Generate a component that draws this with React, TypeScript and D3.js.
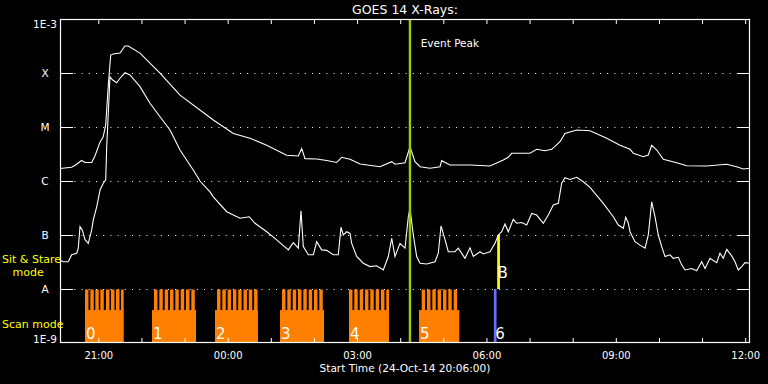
import React from "react";
import * as d3 from "d3";

// Time is given in hours since the start time 24-Oct-14 20:06:00 UT
const START_MS = Date.UTC(2014, 9, 24, 20, 6, 0);
const SPAN_HOURS = 16;

const title = "GOES 14 X-Rays:";
const xAxisTitle = "Start Time (24-Oct-14 20:06:00)";
const eventLabel = "Event Peak";
const eventPeakHour = 8.11;

const yLevels = [1e-9, 1e-8, 1e-7, 1e-6, 1e-5, 1e-4, 1e-3];
const yLabels = ["1E-9", "A", "B", "C", "M", "X", "1E-3"];
const xTickLabels = ["21:00", "00:00", "03:00", "06:00", "09:00", "12:00"];

// 1-8 Angstrom channel [hours since start, W/m^2]
const longChannel: [number, number][] = [
  [0.0, 1.7e-6], [0.27, 1.8e-6], [0.37, 2.0e-6], [0.5, 2.4e-6], [0.58, 2.2e-6], [0.735, 2.2e-6],
  [0.81, 2.9e-6], [0.93, 5.3e-6], [1.0, 6.5e-6], [1.06, 1.09e-5], [1.12, 6.0e-5], [1.176, 2.15e-4],
  [1.236, 2.25e-4], [1.391, 2.34e-4], [1.507, 3.16e-4], [1.584, 3.16e-4], [1.855, 2.34e-4],
  [2.319, 9.9e-5], [2.783, 3.9e-5], [3.478, 1.5e-5], [3.555, 1.35e-5], [4.019, 7.6e-6],
  [4.406, 6.2e-6], [4.793, 4.6e-6], [5.257, 3.0e-6], [5.526, 2.9e-6], [5.605, 4.0e-6],
  [5.681, 2.6e-6], [5.952, 2.55e-6], [6.184, 2.4e-6], [6.416, 2.2e-6], [6.532, 2.75e-6],
  [6.725, 2.52e-6], [6.957, 2.07e-6], [7.42, 1.84e-6], [7.692, 2.28e-6], [7.768, 2.04e-6],
  [8.0, 2.18e-6], [8.116, 4.3e-6], [8.232, 2.28e-6], [8.348, 1.84e-6], [8.58, 1.72e-6],
  [8.812, 1.84e-6], [8.851, 2.38e-6], [9.043, 1.98e-6], [9.507, 1.98e-6], [9.971, 1.9e-6],
  [10.28, 2.45e-6], [10.395, 2.75e-6], [10.474, 3.26e-6], [10.899, 3.26e-6], [11.054, 3.86e-6],
  [11.246, 3.64e-6], [11.402, 3.86e-6], [11.594, 5.35e-6], [11.71, 7.6e-6], [11.981, 8.8e-6],
  [12.29, 8.5e-6], [12.677, 6.2e-6], [12.986, 4.6e-6], [13.22, 3.86e-6], [13.294, 3.26e-6],
  [13.526, 2.82e-6], [13.642, 3.03e-6], [13.72, 4.6e-6], [13.837, 3.75e-6], [13.99, 2.52e-6],
  [14.3, 2.18e-6], [14.532, 1.92e-6], [14.996, 1.9e-6], [15.46, 2.04e-6], [15.69, 1.84e-6],
  [15.845, 1.67e-6], [16.0, 1.72e-6],
];

// 0.5-4 Angstrom channel [hours since start, W/m^2]
const shortChannel: [number, number][] = [
  [0, 3.4e-8], [0.077, 3.2e-8], [0.192, 3.2e-8], [0.271, 4.3e-8], [0.387, 4.6e-8], [0.424, 5.7e-8],
  [0.464, 1.43e-7], [0.517, 1.24e-7], [0.58, 8.2e-8], [0.656, 7.0e-8], [0.735, 1.24e-7],
  [0.772, 1.9e-7], [0.851, 3.3e-7], [0.928, 6.8e-7], [1.004, 9.1e-7], [1.06, 1.05e-6],
  [1.083, 4.3e-6], [1.12, 1.8e-5], [1.159, 8.5e-5], [1.222, 7.4e-5], [1.315, 6.6e-5],
  [1.391, 8.0e-5], [1.507, 1.01e-4], [1.623, 9.2e-5], [1.855, 5.6e-5], [2.087, 2.75e-5],
  [2.319, 1.55e-5], [2.551, 8.8e-6], [2.783, 3.75e-6], [3.09, 1.6e-6], [3.246, 1.0e-6],
  [3.478, 6.3e-7], [3.555, 5.1e-7], [3.866, 2.7e-7], [4.174, 2.04e-7], [4.39, 2.18e-7],
  [4.522, 1.65e-7], [4.793, 1.15e-7], [5.025, 8.1e-8], [5.294, 5.3e-8], [5.41, 7.2e-8],
  [5.526, 5.7e-8], [5.588, 2.8e-7], [5.642, 6.1e-8], [5.758, 4.3e-8], [5.874, 4.3e-8],
  [5.952, 7.5e-8], [6.068, 5.3e-8], [6.184, 5.2e-8], [6.337, 4.3e-8], [6.453, 4.3e-8],
  [6.516, 1.39e-7], [6.569, 1.0e-7], [6.648, 1.15e-7], [6.725, 1.07e-7], [6.764, 7.0e-8],
  [6.88, 4.0e-8], [7.033, 3.0e-8], [7.188, 2.6e-8], [7.343, 2.7e-8], [7.497, 2.25e-8],
  [7.613, 4.0e-8], [7.692, 8.7e-8], [7.768, 4.0e-8], [7.884, 7.0e-8], [8.0, 5.7e-8],
  [8.077, 2.18e-7], [8.116, 3.1e-7], [8.193, 1.0e-7], [8.271, 4.0e-8], [8.348, 3.0e-8],
  [8.503, 2.9e-8], [8.696, 3.2e-8], [8.772, 4.6e-8], [8.835, 1.47e-7], [8.928, 8.2e-8],
  [9.004, 4.9e-8], [9.159, 4.9e-8], [9.236, 5.7e-8], [9.391, 3.7e-8], [9.507, 5.8e-8],
  [9.584, 4.0e-8], [9.739, 4.9e-8], [9.816, 4.45e-8], [9.971, 4.9e-8], [10.087, 7.0e-8],
  [10.163, 1.0e-7], [10.242, 1.15e-7], [10.319, 1.6e-7], [10.395, 1.15e-7], [10.511, 1.95e-7],
  [10.59, 1.65e-7], [10.706, 1.7e-7], [10.822, 1.53e-7], [10.938, 2.5e-7], [11.054, 2.34e-7],
  [11.207, 1.65e-7], [11.323, 2.34e-7], [11.439, 3.6e-7], [11.555, 3.86e-7], [11.633, 9.1e-7],
  [11.71, 1.15e-6], [11.826, 1.07e-6], [11.981, 1.17e-6], [12.135, 9.7e-7], [12.29, 7.6e-7],
  [12.598, 3.86e-7], [12.83, 2.18e-7], [12.946, 1.53e-7], [13.062, 1.33e-7], [13.118, 2.13e-7],
  [13.178, 1.65e-7], [13.217, 1.15e-7], [13.333, 7.5e-8], [13.449, 6.5e-8], [13.565, 5.7e-8],
  [13.642, 1.0e-7], [13.72, 4.1e-7], [13.797, 2.18e-7], [13.874, 1.0e-7], [13.952, 6.1e-8],
  [14.029, 4.0e-8], [14.145, 4.3e-8], [14.222, 3.7e-8], [14.338, 3.86e-8], [14.416, 2.8e-8],
  [14.493, 2.25e-8], [14.648, 2.4e-8], [14.764, 2.18e-8], [14.88, 3.2e-8], [14.957, 2.4e-8],
  [15.072, 3.7e-8], [15.228, 3.07e-8], [15.304, 4.6e-8], [15.381, 3.7e-8], [15.46, 5.4e-8],
  [15.575, 4.1e-8], [15.652, 3.2e-8], [15.729, 2.25e-8], [15.808, 2.6e-8], [15.884, 3.07e-8],
  [16.0, 3.0e-8],
];

// Scan-mode rasters: block label, start/end hour, raster start hours
const scanLabels = ["0", "1", "2", "3", "4", "5"];
const scanStart = [0.58, 2.133, 3.594, 5.101, 6.701, 8.325];
const scanEnd = [1.477, 3.154, 4.591, 6.122, 7.629, 9.259];
const scanRasters: number[][] = [
  [0.58, 0.703, 0.819, 0.935, 1.067, 1.183, 1.299, 1.414],
  [2.18, 2.303, 2.428, 2.551, 2.674, 2.799, 2.922, 3.045],
  [3.641, 3.764, 3.887, 4.01, 4.132, 4.255, 4.378, 4.501],
  [5.148, 5.271, 5.396, 5.519, 5.642, 5.767, 5.89, 6.013],
  [6.701, 6.824, 6.949, 7.072, 7.195, 7.32, 7.443, 7.566],
  [8.387, 8.51, 8.633, 8.757, 8.881, 9.004, 9.129],
];
const rasterDuration = 0.08;
const lastScanLabel = "6";
const lastScanHour = 10.09;
const sitStareLabel = "B";
const sitStareHour = 10.145;

const W = 768;
const H = 384;
const L = 60, R = 750, T = 19, B = 343;
const FONT = "DejaVu Sans, sans-serif";
const ORANGE = "#ff8000";

export default function App() {
  const hourToDate = (h: number) => new Date(START_MS + h * 3600e3);
  const x = d3.scaleUtc().domain([hourToDate(0), hourToDate(SPAN_HOURS)]).range([L, R]);
  const y = d3.scaleLog().domain([1e-9, 1e-3]).range([B, T]);
  const xh = (h: number) => x(hourToDate(h));

  const line = d3
    .line<[number, number]>()
    .x((d) => xh(d[0]))
    .y((d) => y(d[1]));

  const hourTicks = x.ticks(d3.utcHour.every(1) as any);
  const labelTicks = hourTicks.filter((d) => d.getUTCHours() % 3 === 0);

  const ySplit = y(1e-8); // A level
  const yBase = ySplit + (B - ySplit) * 0.39;

  return (
    <svg
      width={W}
      height={H}
      style={{ position: "fixed", left: 0, top: 0, background: "#000" }}
      fontFamily={FONT}
    >
      <rect x={0} y={0} width={W} height={H} fill="#000" />

      {/* scan mode blocks */}
      {scanLabels.map((lab, i) => (
        <g key={lab}>
          <rect
            x={xh(scanStart[i])}
            y={yBase}
            width={xh(scanEnd[i]) - xh(scanStart[i])}
            height={B - yBase}
            fill={ORANGE}
          />
          {scanRasters[i].map((s, j) => (
            <rect
              key={j}
              x={xh(s)}
              y={ySplit + 0.5}
              width={Math.min(xh(s + rasterDuration), xh(scanEnd[i])) - xh(s)}
              height={yBase - ySplit}
              fill={ORANGE}
            />
          ))}
          <text x={xh(scanStart[i]) + 1} y={338.5} fill="#fff" fontSize={15}>
            {lab}
          </text>
        </g>
      ))}

      {/* last scan (blue) and sit & stare (yellow) */}
      <rect x={xh(lastScanHour) - 1.3} y={ySplit} width={2.7} height={B - ySplit} fill="#6a6aff" />
      <rect x={xh(sitStareHour) - 0.3} y={y(1e-7)} width={2.7} height={ySplit - y(1e-7)} fill="#ffff00" />
      <text x={xh(lastScanHour)} y={338.5} fill="#fff" fontSize={15}>
        {lastScanLabel}
      </text>
      <text x={xh(sitStareHour)} y={277.5} fill="#fff" fontSize={15}>
        {sitStareLabel}
      </text>

      {/* dotted class lines */}
      {yLevels.slice(1, -1).map((v) => (
        <g key={v}>
          <line x1={L} x2={R} y1={y(v) + 0.5} y2={y(v) + 0.5} stroke="#fff" strokeWidth={1} strokeDasharray="1 6.2" />
          <line x1={L} x2={L + 13} y1={y(v) + 0.5} y2={y(v) + 0.5} stroke="#fff" strokeWidth={1} />
          <line x1={R - 13} x2={R} y1={y(v) + 0.5} y2={y(v) + 0.5} stroke="#fff" strokeWidth={1} />
        </g>
      ))}

      {/* curves */}
      <path d={line(longChannel) || ""} fill="none" stroke="#fff" strokeWidth={1.1} />
      <path d={line(shortChannel) || ""} fill="none" stroke="#fff" strokeWidth={1.1} />

      {/* event peak */}
      <rect x={xh(eventPeakHour) - 1} y={T} width={2.4} height={B - T} fill="#9ccc00" />
      <text x={xh(eventPeakHour) + 11} y={47} fill="#fff" fontSize={10.5}>
        {eventLabel}
      </text>

      {/* axes box */}
      <rect x={L + 0.5} y={T + 0.5} width={R - L - 1} height={B - T - 1} fill="none" stroke="#fff" strokeWidth={1.2} />

      {/* hourly ticks */}
      {hourTicks.map((d) => (
        <g key={+d}>
          <line x1={x(d)} x2={x(d)} y1={B} y2={B - 5} stroke="#fff" strokeWidth={1} />
          <line x1={x(d)} x2={x(d)} y1={T} y2={T + 5} stroke="#fff" strokeWidth={1} />
        </g>
      ))}
      {labelTicks.map((d, i) => (
        <text key={+d} x={x(d)} y={358.5} fill="#fff" fontSize={10} textAnchor="middle">
          {xTickLabels[i]}
        </text>
      ))}

      {/* y labels */}
      {yLevels.map((v, i) => {
        const yy = i === 0 ? B : i === yLevels.length - 1 ? T + 8.5 : y(v) + 4;
        return (
          <text key={v} x={45} y={yy} fill="#fff" fontSize={10.5} textAnchor="middle">
            {yLabels[i]}
          </text>
        );
      })}

      {/* titles */}
      <text x={(L + R) / 2} y={14} fill="#fff" fontSize={12.5} textAnchor="middle">
        {title}
      </text>
      <text x={(L + R) / 2} y={371.7} fill="#fff" fontSize={10.6} textAnchor="middle">
        {xAxisTitle}
      </text>

      {/* mode labels */}
      <text x={2} y={262.5} fill="#ffff00" fontSize={11}>
        Sit &amp; Stare
      </text>
      <text x={12.5} y={276} fill="#ffff00" fontSize={11}>
        mode
      </text>
      <text x={2} y={327.7} fill="#ffff00" fontSize={11}>
        Scan mode
      </text>
    </svg>
  );
}
